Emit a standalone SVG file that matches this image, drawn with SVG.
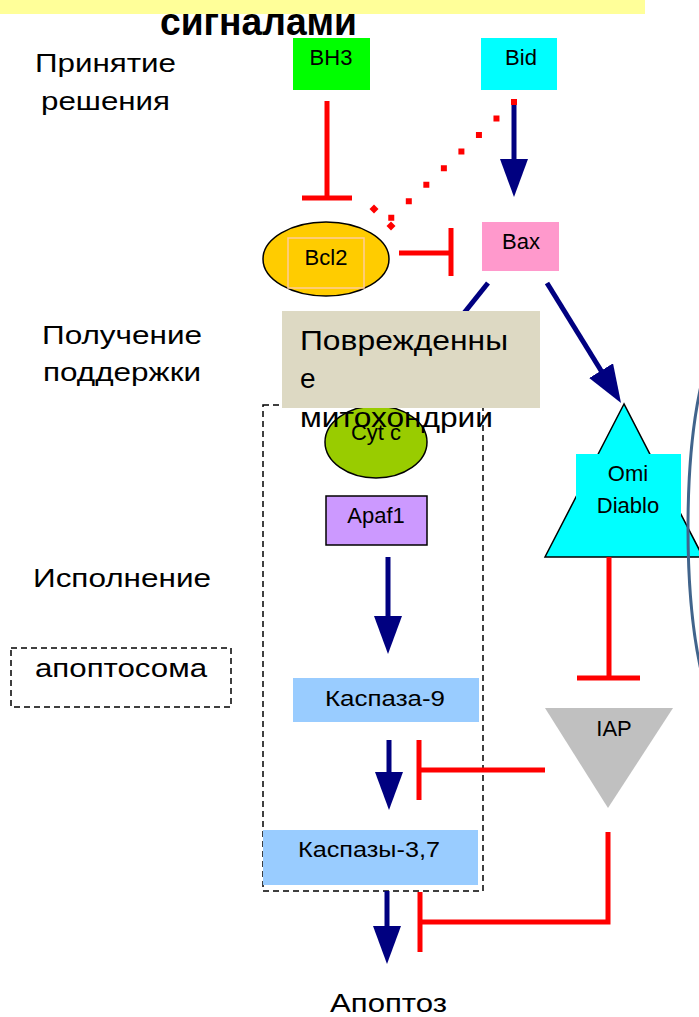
<svg xmlns="http://www.w3.org/2000/svg" width="699" height="1017" viewBox="0 0 699 1017">
<defs>
<style>
text{font-family:"Liberation Sans",Arial,sans-serif;fill:#000}
.lbl{font-size:26px}
.sm{font-size:22px;text-anchor:middle}
.act{stroke:#000080;stroke-width:5;fill:none}
.inh{stroke:#FF0000;stroke-width:5;fill:none}
.dash{fill:none;stroke:#000;stroke-width:1.5;stroke-dasharray:6 4}
</style>
<marker id="ah" viewBox="0 0 38 28" markerUnits="userSpaceOnUse" markerWidth="38" markerHeight="28" refX="28" refY="14" orient="auto">
<path d="M0,0 L38,14 L0,28 z" fill="#000080"/>
</marker>
</defs>
<rect width="699" height="1017" fill="#fff"/>
<g id="title">
<rect x="0" y="0" width="645" height="14" fill="#FFFF99"/>
<text x="160" y="35" font-size="38" font-weight="bold" textLength="197" lengthAdjust="spacingAndGlyphs">сигналами</text>
</g>
<g id="labels">
<text class="lbl" x="35" y="72" textLength="141" lengthAdjust="spacingAndGlyphs">Принятие</text>
<text class="lbl" x="41" y="110" textLength="129" lengthAdjust="spacingAndGlyphs">решения</text>
<text class="lbl" x="42" y="344" textLength="160" lengthAdjust="spacingAndGlyphs">Получение</text>
<text class="lbl" x="43" y="381" textLength="158" lengthAdjust="spacingAndGlyphs">поддержки</text>
<text class="lbl" x="33" y="587" textLength="178" lengthAdjust="spacingAndGlyphs">Исполнение</text>
</g>
<g id="apoptosome-legend">
<rect class="dash" x="11" y="648" width="220" height="59"/>
<text class="lbl" x="35" y="677" textLength="172" lengthAdjust="spacingAndGlyphs">апоптосома</text>
</g>
<g id="apoptosome-box">
<rect class="dash" x="263" y="405" width="220" height="486"/>
</g>
<g id="BH3">
<rect x="293" y="38" width="77" height="52" fill="#00FF00"/>
<text class="sm" x="331" y="65" font-size="21">BH3</text>
</g>
<g id="Bid">
<rect x="481" y="38" width="76" height="52" fill="#00FFFF"/>
<text class="sm" x="521" y="65" font-size="21">Bid</text>
</g>
<g id="Bcl2">
<ellipse cx="326" cy="259" rx="63" ry="37" fill="#FFCC00" stroke="#000" stroke-width="1.5"/>
<rect x="288" y="238" width="76" height="50" fill="none" stroke="#FFCC99" stroke-width="1.5"/>
<text class="sm" x="326" y="265" font-size="23">Bcl2</text>
</g>
<g id="Bax">
<rect x="482" y="222" width="77" height="49" fill="#FF99CC"/>
<text class="sm" x="521" y="249">Bax</text>
</g>
<g id="CytC">
<ellipse cx="376" cy="442" rx="51" ry="36" fill="#99CC00" stroke="#000" stroke-width="1.5"/>
</g>
<g id="Apaf1">
<rect x="326" y="496" width="101" height="49" fill="#CC99FF" stroke="#000" stroke-width="1.5"/>
<text class="sm" x="376" y="523">Apaf1</text>
</g>
<g id="OmiDiablo">
<polygon points="624,404 545,557 703,557" fill="#00FFFF" stroke="#000" stroke-width="1.5"/>
<rect x="576" y="454" width="105" height="102" fill="#00FFFF"/>
<text class="sm" x="628" y="481" font-size="23">Omi</text>
<text class="sm" x="628" y="513" font-size="23">Diablo</text>
</g>
<g id="Casp9">
<rect x="293" y="678" width="186" height="44" fill="#99CCFF"/>
<text class="sm" x="385" y="706" textLength="120" lengthAdjust="spacingAndGlyphs">Каспаза-9</text>
</g>
<g id="IAP">
<polygon points="545,708 673,708 608,808" fill="#C0C0C0"/>
<text class="sm" x="614" y="736">IAP</text>
</g>
<g id="Casp37">
<rect x="263" y="830" width="215" height="55" fill="#99CCFF"/>
<text class="sm" x="369" y="857" textLength="142" lengthAdjust="spacingAndGlyphs">Каспазы-3,7</text>
</g>
<g id="connectors">
<line class="inh" x1="327" y1="101" x2="327" y2="198"/>
<line class="inh" x1="302" y1="198" x2="352" y2="198"/>
<line class="inh" x1="399" y1="253" x2="451" y2="253"/>
<line class="inh" x1="451" y1="228" x2="451" y2="276"/>
<line class="act" x1="514" y1="102" x2="514" y2="187" marker-end="url(#ah)"/>
<line x1="514" y1="102" x2="391" y2="218" stroke="#FF0000" stroke-width="6" stroke-linecap="square" stroke-dasharray="0 24.1"/>
<polygon points="374,204.5 378.5,209 374,213.5 369.5,209" fill="#FF0000"/>
<polygon points="391,221.5 395.5,226 391,230.5 386.5,226" fill="#FF0000"/>
<line class="act" x1="488" y1="283" x2="460" y2="318"/>
<line class="act" x1="547" y1="283" x2="615.8" y2="394.5" marker-end="url(#ah)"/>
<line class="act" x1="388" y1="557" x2="388" y2="644" marker-end="url(#ah)"/>
<line class="act" x1="389" y1="740" x2="389" y2="800" marker-end="url(#ah)"/>
<line class="act" x1="387" y1="891" x2="387" y2="954" marker-end="url(#ah)"/>
<line class="inh" x1="609" y1="557" x2="609" y2="678"/>
<line class="inh" x1="577" y1="678" x2="640" y2="678"/>
<line class="inh" x1="545" y1="770" x2="419" y2="770"/>
<line class="inh" x1="419" y1="740" x2="419" y2="800"/>
<polyline class="inh" points="608,832 608,922 420,922"/>
<line class="inh" x1="420" y1="892" x2="420" y2="952"/>
<ellipse cx="728" cy="528" rx="40" ry="193" fill="none" stroke="#41648C" stroke-width="3"/>
</g>
<g id="mito">
<rect x="282" y="311" width="258" height="97" fill="#DDD9C3"/>
<text x="300" y="350" font-size="28" textLength="208" lengthAdjust="spacingAndGlyphs">Поврежденны</text>
<text x="300" y="388" font-size="28">е</text>
<text x="300" y="427" font-size="28" textLength="193" lengthAdjust="spacingAndGlyphs">митохондрии</text>
</g>
<g id="CytC-label">
<text class="sm" x="376" y="440" font-size="21">Cyt c</text>
</g>
<g id="Apoptosis">
<text class="lbl" x="330" y="1012" textLength="117" lengthAdjust="spacingAndGlyphs">Апоптоз</text>
</g>
</svg>
